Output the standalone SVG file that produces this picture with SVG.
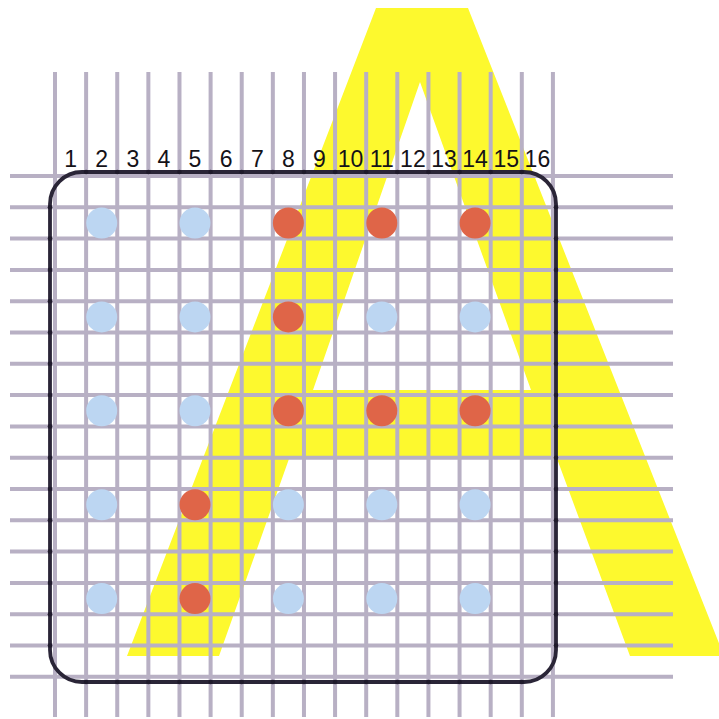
<svg xmlns="http://www.w3.org/2000/svg" width="719" height="719" viewBox="0 0 719 719">
  <style>
    .grid { stroke: #b8b0c4; stroke-width: 4; fill: none; }
    .frame { stroke: #2a2537; stroke-width: 3.8; fill: none; }
    .knot { fill: #1f1a2b; }
    .blue { fill: #bcd6f2; }
    .red { fill: #df6548; }
    .lbl { font-family: "Liberation Sans", Arial, sans-serif; font-size: 23px; fill: #141218; text-anchor: middle; }
  </style>
  <rect width="719" height="719" fill="#ffffff"/>
  <g id="letterA">
    <path fill="#fdf92e" fill-rule="evenodd" d="M376,8 L468,8 L724,656 L630,656 L556,456 L290,456 L219,656 L127,656 Z M420,82 L313,390 L531,390 Z"/>
  </g>
  <g id="grid" class="grid">
    <path d="M55,72V717 M86.12,72V717 M117.24,72V717 M148.36,72V717 M179.48,72V717 M210.6,72V717 M241.72,72V717 M272.84,72V717 M303.96,72V717 M335.08,72V717 M366.2,72V717 M397.32,72V717 M428.44,72V717 M459.56,72V717 M490.68,72V717 M521.8,72V717 M552.92,72V717"/>
    <path d="M10,176H673 M10,207.3H673 M10,238.6H673 M10,269.9H673 M10,301.2H673 M10,332.5H673 M10,363.8H673 M10,395.1H673 M10,426.4H673 M10,457.7H673 M10,489H673 M10,520.3H673 M10,551.6H673 M10,582.9H673 M10,614.2H673 M10,645.5H673 M10,676.8H673"/>
  </g>
  <g id="frame">
    <rect class="frame" x="50" y="172" width="506" height="510" rx="32" ry="32"/>
    <g class="knot">
      <circle cx="86.12" cy="172" r="2.3"/><circle cx="117.24" cy="172" r="2.3"/><circle cx="148.36" cy="172" r="2.3"/><circle cx="179.48" cy="172" r="2.3"/><circle cx="210.6" cy="172" r="2.3"/><circle cx="241.72" cy="172" r="2.3"/><circle cx="272.84" cy="172" r="2.3"/><circle cx="303.96" cy="172" r="2.3"/><circle cx="335.08" cy="172" r="2.3"/><circle cx="366.2" cy="172" r="2.3"/><circle cx="397.32" cy="172" r="2.3"/><circle cx="428.44" cy="172" r="2.3"/><circle cx="459.56" cy="172" r="2.3"/><circle cx="490.68" cy="172" r="2.3"/><circle cx="521.8" cy="172" r="2.3"/>
      <circle cx="86.12" cy="682" r="2.3"/><circle cx="117.24" cy="682" r="2.3"/><circle cx="148.36" cy="682" r="2.3"/><circle cx="179.48" cy="682" r="2.3"/><circle cx="210.6" cy="682" r="2.3"/><circle cx="241.72" cy="682" r="2.3"/><circle cx="272.84" cy="682" r="2.3"/><circle cx="303.96" cy="682" r="2.3"/><circle cx="335.08" cy="682" r="2.3"/><circle cx="366.2" cy="682" r="2.3"/><circle cx="397.32" cy="682" r="2.3"/><circle cx="428.44" cy="682" r="2.3"/><circle cx="459.56" cy="682" r="2.3"/><circle cx="490.68" cy="682" r="2.3"/><circle cx="521.8" cy="682" r="2.3"/>
      <circle cx="50" cy="207.3" r="2.3"/><circle cx="50" cy="238.6" r="2.3"/><circle cx="50" cy="269.9" r="2.3"/><circle cx="50" cy="301.2" r="2.3"/><circle cx="50" cy="332.5" r="2.3"/><circle cx="50" cy="363.8" r="2.3"/><circle cx="50" cy="395.1" r="2.3"/><circle cx="50" cy="426.4" r="2.3"/><circle cx="50" cy="457.7" r="2.3"/><circle cx="50" cy="489" r="2.3"/><circle cx="50" cy="520.3" r="2.3"/><circle cx="50" cy="551.6" r="2.3"/><circle cx="50" cy="582.9" r="2.3"/><circle cx="50" cy="614.2" r="2.3"/><circle cx="50" cy="645.5" r="2.3"/>
      <circle cx="556" cy="207.3" r="2.3"/><circle cx="556" cy="238.6" r="2.3"/><circle cx="556" cy="269.9" r="2.3"/><circle cx="556" cy="301.2" r="2.3"/><circle cx="556" cy="332.5" r="2.3"/><circle cx="556" cy="363.8" r="2.3"/><circle cx="556" cy="395.1" r="2.3"/><circle cx="556" cy="426.4" r="2.3"/><circle cx="556" cy="457.7" r="2.3"/><circle cx="556" cy="489" r="2.3"/><circle cx="556" cy="520.3" r="2.3"/><circle cx="556" cy="551.6" r="2.3"/><circle cx="556" cy="582.9" r="2.3"/><circle cx="556" cy="614.2" r="2.3"/><circle cx="556" cy="645.5" r="2.3"/>
    </g>
  </g>
  <g id="dots">
    <circle class="blue" cx="101.7" cy="223" r="15.5"/>
    <circle class="blue" cx="195" cy="223" r="15.5"/>
    <circle class="red" cx="288.4" cy="223" r="15.5"/>
    <circle class="red" cx="381.8" cy="223" r="15.5"/>
    <circle class="red" cx="475.1" cy="223" r="15.5"/>
    <circle class="blue" cx="101.7" cy="316.9" r="15.5"/>
    <circle class="blue" cx="195" cy="316.9" r="15.5"/>
    <circle class="red" cx="288.4" cy="316.9" r="15.5"/>
    <circle class="blue" cx="381.8" cy="316.9" r="15.5"/>
    <circle class="blue" cx="475.1" cy="316.9" r="15.5"/>
    <circle class="blue" cx="101.7" cy="410.8" r="15.5"/>
    <circle class="blue" cx="195" cy="410.8" r="15.5"/>
    <circle class="red" cx="288.4" cy="410.8" r="15.5"/>
    <circle class="red" cx="381.8" cy="410.8" r="15.5"/>
    <circle class="red" cx="475.1" cy="410.8" r="15.5"/>
    <circle class="blue" cx="101.7" cy="504.7" r="15.5"/>
    <circle class="red" cx="195" cy="504.7" r="15.5"/>
    <circle class="blue" cx="288.4" cy="504.7" r="15.5"/>
    <circle class="blue" cx="381.8" cy="504.7" r="15.5"/>
    <circle class="blue" cx="475.1" cy="504.7" r="15.5"/>
    <circle class="blue" cx="101.7" cy="598.6" r="15.5"/>
    <circle class="red" cx="195" cy="598.6" r="15.5"/>
    <circle class="blue" cx="288.4" cy="598.6" r="15.5"/>
    <circle class="blue" cx="381.8" cy="598.6" r="15.5"/>
    <circle class="blue" cx="475.1" cy="598.6" r="15.5"/>
  </g>
  <g id="labels" class="lbl">
    <text x="70.6" y="167">1</text>
    <text x="101.7" y="167">2</text>
    <text x="132.8" y="167">3</text>
    <text x="163.9" y="167">4</text>
    <text x="195" y="167">5</text>
    <text x="226.2" y="167">6</text>
    <text x="257.3" y="167">7</text>
    <text x="288.4" y="167">8</text>
    <text x="319.5" y="167">9</text>
    <text x="350.6" y="167">10</text>
    <text x="381.8" y="167">11</text>
    <text x="412.9" y="167">12</text>
    <text x="444" y="167">13</text>
    <text x="475.1" y="167">14</text>
    <text x="506.2" y="167">15</text>
    <text x="537.4" y="167">16</text>
  </g>
</svg>
